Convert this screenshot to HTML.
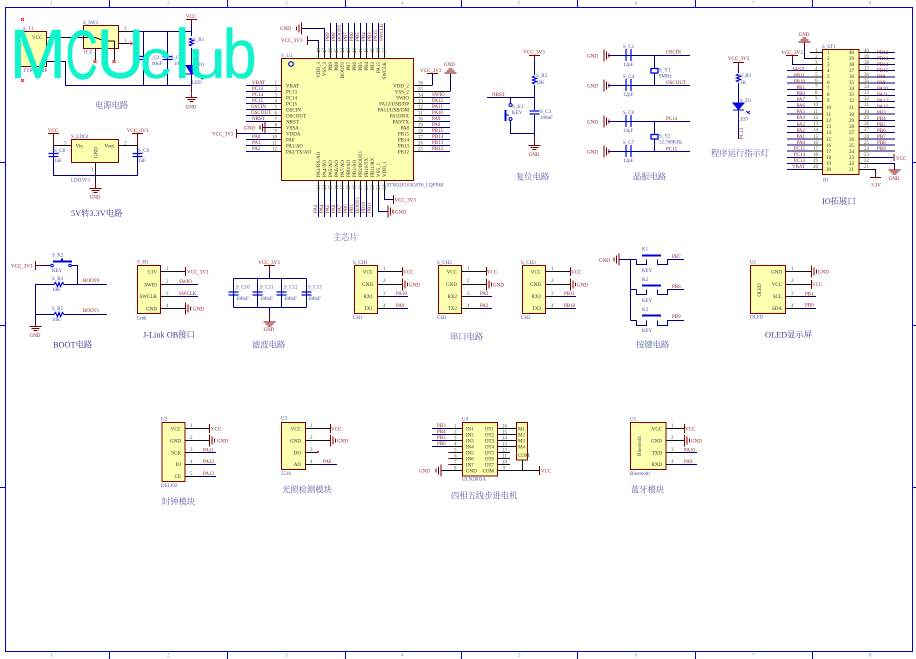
<!DOCTYPE html>
<html><head><meta charset="utf-8"><style>
html,body{margin:0;padding:0;background:#fff}
svg{display:block}
text{font:5px "Liberation Serif","Noto Serif CJK SC",serif;white-space:pre}
.n{fill:#8a2020}.d{fill:#4a4aa0}.b{fill:#303030}.g{fill:#555}
.t{font-size:8.3px;fill:#5a5ea8}.tk{font-size:8.3px;fill:#3c4090}
.e{text-anchor:end}.m{text-anchor:middle}
.w{stroke:#00007f;fill:none;stroke-width:1}
.k{stroke:#111;fill:none;stroke-width:1}
.r{stroke:#800000;fill:none;stroke-width:1}
.u{stroke:#0000e0;fill:none;stroke-width:1.2}
.c{fill:#ffffb0;stroke:#800000;stroke-width:1}
.x{stroke:#e02020;fill:none;stroke-width:1}
.mc{font:70px "Liberation Sans",sans-serif;fill:#10f3cc;stroke:#10f3cc;stroke-width:.4;stroke-linejoin:round}
</style></head><body>
<svg width="916" height="659" viewBox="0 0 916 659" xmlns="http://www.w3.org/2000/svg">
<defs>
<g id="gd"><path class="r" d="M0-4V0M-6 0H6M-4 2H4M-2 4H2" stroke-width="1"/></g>
<g id="gr"><path class="r" d="M0-6V6M2.500-4V4M5-2V2"/></g>
<g id="gl"><path class="r" d="M0-6V6M-2.500-4V4M-5-2V2"/></g>
<g id="gu"><path class="r" d="M-6 0H6M-4-2H4M-2-4H2"/></g>
<g id="rv"><path class="u" d="M0-4L-2-3L2-1.500L-2 0L2 1.500L-2 3L0 4"/></g>
<g id="rh"><path class="u" d="M-5 0L-3.500-2L-1.500 2L0-2L1.500 2L3.500-2L5 0"/></g>
<g id="cv"><path class="u" d="M-5-1.500H5M-5 1.500H5"/></g>
</defs>

<!-- frame -->
<path d="M5.500 7.500H912.500V651.500H5.500Z" fill="none" stroke="#0000c8"/>
<path d="M109.500 0V7M227.500 0V7M345.500 0V7M461.500 0V7M577.500 0V7M695.500 0V7M812.500 0V7M109.500 652V659M227.500 652V659M345.500 652V659M461.500 652V659M577.500 652V659M695.500 652V659M812.500 652V659M0 162.500H5M0 325.500H5M0 487.500H5M913 162.500H916M913 325.500H916M913 487.500H916" stroke="#0000e0" fill="none"/>
<g style="font-size:4px">
<text x="50" y="4.500" fill="#7a7ae8">1</text><text x="167" y="4.500" fill="#7a7ae8">2</text><text x="285" y="4.500" fill="#7a7ae8">3</text><text x="401" y="4.500" fill="#7a7ae8">4</text><text x="518" y="4.500" fill="#7a7ae8">5</text><text x="635" y="4.500" fill="#7a7ae8">6</text><text x="752" y="4.500" fill="#7a7ae8">7</text><text x="869" y="4.500" fill="#7a7ae8">8</text>
<text x="50" y="656.500" fill="#7a7ae8">1</text><text x="167" y="656.500" fill="#7a7ae8">2</text><text x="285" y="656.500" fill="#7a7ae8">3</text><text x="401" y="656.500" fill="#7a7ae8">4</text><text x="518" y="656.500" fill="#7a7ae8">5</text><text x="635" y="656.500" fill="#7a7ae8">6</text><text x="752" y="656.500" fill="#7a7ae8">7</text><text x="869" y="656.500" fill="#7a7ae8">8</text>
</g>

<!-- POWER -->
<rect class="c" x="17.500" y="31.500" width="29" height="35"/>
<rect class="c" x="83.500" y="25.500" width="35" height="23"/>
<path class="k" d="M46 37.500H83M118 31.500H131M118 43.500H131M95.500 48V60M114.500 48V60M83 37.500H95L105 41H114.500V48"/>
<path class="x" d="M21 18l3 3m0-3l-3 3M21 79l3 3m0-3l-3 3M129 43.500h4M131 41.500v4M93.500 60l3 3m0-3l-3 3M112.500 60l3 3m0-3l-3 3"/>
<path class="w" d="M131 31.500H191.500M46 61.500H65.500V85.500H191.500M143.500 31.500V85.500M167.500 31.500V85.500"/>
<path d="M191.500 19V36M191.500 48V65M191.500 74V93" class="w"/>
<path class="r" d="M186 19.500H197M191.500 19.500V24M191.500 85V93"/>
<use href="#rv" x="191.500" y="42"/>
<use href="#cv" x="143.500" y="58"/><use href="#cv" x="167.500" y="58"/>
<path d="M185.500 74H197.500M186 65.500H197L191.500 74Z" fill="#0000e0" stroke="#0000e0"/>
<path d="M199 76l4 3M203 79l-2-.5M203 79l-.5-2" stroke="#0000e0" fill="none"/>
<use href="#gd" x="191.500" y="97.500"/>
<text class="n m" x="191" y="18">VCC</text><text class="n m" x="191" y="108.500">GND</text>
<text class="d" x="23" y="30">S_T1</text><text class="b" x="32" y="39">VCC</text>
<text class="d" x="23" y="72">TYPE-C-2P</text><text class="d" x="83" y="24">S_SW1</text><text class="d" x="83" y="54">开关</text>
<text class="g" x="76" y="36">2</text><text class="g" x="52" y="36">1</text><text class="g" x="124" y="30">3</text><text class="g" x="124" y="42">1</text>
<text class="d" x="151" y="59">_C2</text><text class="d" x="152" y="65">00uF</text><text class="d" x="171" y="59">S_C</text><text class="d" x="174" y="65">104</text>
<text class="d" x="193" y="41">S_R1</text><text class="d" x="193" y="66">S_D1</text><text class="d" x="192" y="84">LED</text>
<text class="t" x="95" y="108">电源电路</text>

<!-- LDO -->
<rect class="c" x="71.500" y="139.500" width="47" height="23"/>
<path class="k" d="M53.500 145.500H71M118 145.500H137.500M95.500 162V175"/>
<path class="w" d="M53.500 145.500V175.500H137.500V145.500M95.500 175V186"/>
<path class="r" d="M48 133.500H59M53.500 133.500V145M132 133.500H143M137.500 133.500V145M95.500 182V188"/>
<use href="#cv" x="53.500" y="155"/><use href="#cv" x="137.500" y="155"/><use href="#gd" x="95.500" y="188.500"/>
<text class="n m" x="53" y="132">VCC</text><text class="n m" x="137.500" y="132">VCC_3V3</text><text class="n m" x="95" y="198.500">GND</text>
<text class="d" x="71" y="138">S_LDO1</text><text class="b" x="75.500" y="147.500">Vin</text><text class="b" x="104.500" y="147.500">Vout</text>
<text class="b" transform="rotate(-90 97.500 158)" x="97.500" y="158">GND</text>
<text class="g" x="64" y="144.500">3</text><text class="g" x="124" y="144.500">2</text><text class="g" x="91" y="171">1</text>
<text class="d" x="54" y="152">S_C8</text><text class="d" x="54" y="162">1uF</text><text class="d" x="138" y="152">S_C9</text><text class="d" x="138" y="162">1uF</text>
<text class="d" x="71" y="181.500">LDO3V3</text>
<text class="tk" x="71" y="216">5V转3.3V电路</text>

<!-- MCU -->
<rect class="c" x="281.500" y="58.500" width="132" height="122"/>
<circle cx="291" cy="64" r="2.300" fill="none" stroke="#0000e0" stroke-width="1.200"/>
<path class="k" d="M268 85.500H281M268 91.500H281M268 97.500H281M268 103.500H281M268 109.500H281M268 115.500H281M268 121.500H281M268 127.500H281M268 133.500H281M268 139.500H281M268 145.500H281M268 151.500H281
M414 85.500H432M414 91.500H450M414 97.500H427M414 103.500H427M414 109.500H427M414 115.500H427M414 121.500H427M414 127.500H427M414 133.500H427M414 139.500H427M414 145.500H427M414 151.500H427
M318.500 47V58M324.500 47V58M330.500 47V58M336.500 47V58M342.500 47V58M348.500 47V58M354.500 47V58M360.500 47V58M366.500 47V58M372.500 47V58M378.500 47V58M384.500 47V58
M318.500 181V192M324.500 181V192M330.500 181V192M336.500 181V192M342.500 181V192M348.500 181V192M354.500 181V192M360.500 181V192M366.500 181V192M372.500 181V192M378.500 181V192M384.500 181V192"/>
<path class="w" d="M246 85.500H268M246 91.500H268M246 97.500H268M246 103.500H268M246 109.500H268M246 115.500H268M246 121.500H268M246 139.500H268M246 145.500H268M246 151.500H268M262 127.500H268M236 133.500H268
M427 97.500H450M427 103.500H450M427 109.500H450M427 115.500H450M427 121.500H450M427 127.500H450M427 133.500H450M427 139.500H450M427 145.500H450M427 151.500H450
M432.500 85.500V74M450.500 91.500V74
M330.500 23V47M336.500 23V47M342.500 23V47M348.500 23V47M354.500 23V47M360.500 23V47M366.500 23V47M372.500 23V47M378.500 23V47M384.500 23V47
M324.500 47V28.500H301M318.500 47V40.500H307
M318.500 192V217M324.500 192V217M330.500 192V217M336.500 192V217M342.500 192V217M348.500 192V217M354.500 192V217M360.500 192V217M366.500 192V217
M372.500 192V217M378.500 192V211.500H388M384.500 192V199.500H393"/>
<path class="r" d="M427 73.500H438"/>
<use href="#gu" x="450.500" y="73"/><use href="#gl" x="301.500" y="28.500"/>
<path class="r" d="M307.500 36V45M236.500 129V138M393.500 195V204"/>
<use href="#gl" x="265" y="127.500"/><use href="#gr" x="388" y="211.500"/>
<text class="n" x="280" y="30">GND</text><text class="n" x="281" y="42">VCC_3V3</text><text class="n" x="244" y="129.500">GND</text><text class="n" x="212" y="135.500">VCC_3V3</text>
<text class="n" x="420" y="72">VCC_3V3</text><text class="n" x="444" y="66">GND</text><text class="n" x="394.500" y="201.500">VCC_3V3</text><text class="n" x="395" y="213.500">GND</text>
<g>
<text class="n" x="252" y="84">VBAT</text><text class="n" x="252" y="90">PC13</text><text class="n" x="252" y="96">PC14</text><text class="n" x="252" y="102">PC15</text><text class="n" x="251" y="108">OSCIN</text><text class="n" x="251" y="114">OSCOUT</text><text class="n" x="252" y="120">NRST</text><text class="n" x="252" y="138">PA0</text><text class="n" x="252" y="144">PA1</text><text class="n" x="252" y="150">PA2</text>
<text class="n" x="432" y="96">SWIO</text><text class="n" x="432" y="102">PA12</text><text class="n" x="432" y="108">PA11</text><text class="n" x="432" y="114">PA10</text><text class="n" x="432" y="120">PA9</text><text class="n" x="432" y="126">PA8</text><text class="n" x="432" y="132">PB15</text><text class="n" x="432" y="138">PB14</text><text class="n" x="432" y="144">PB13</text><text class="n" x="432" y="150">PB12</text>
</g>
<g>
<text class="g e" x="277" y="84.500">1</text><text class="g e" x="277" y="90.500">2</text><text class="g e" x="277" y="96.500">3</text><text class="g e" x="277" y="102.500">4</text><text class="g e" x="277" y="108.500">5</text><text class="g e" x="277" y="114.500">6</text><text class="g e" x="277" y="120.500">7</text><text class="g e" x="277" y="126.500">8</text><text class="g e" x="277" y="132.500">9</text><text class="g e" x="277" y="138.500">10</text><text class="g e" x="277" y="144.500">11</text><text class="g e" x="277" y="150.500">12</text>
<text class="g" x="418" y="84.500">36</text><text class="g" x="418" y="90.500">35</text><text class="g" x="418" y="96.500">34</text><text class="g" x="418" y="102.500">33</text><text class="g" x="418" y="108.500">32</text><text class="g" x="418" y="114.500">31</text><text class="g" x="418" y="120.500">30</text><text class="g" x="418" y="126.500">29</text><text class="g" x="418" y="132.500">28</text><text class="g" x="418" y="138.500">27</text><text class="g" x="418" y="144.500">26</text><text class="g" x="418" y="150.500">25</text>
</g>
<text class="b" x="286" y="87.500">VBAT</text><text class="b" x="286" y="93.500">PC13</text><text class="b" x="286" y="99.500">PC14</text><text class="b" x="286" y="105.500">PC15</text><text class="b" x="286" y="111.500">OSCIN</text><text class="b" x="286" y="117.500">OSCOUT</text><text class="b" x="286" y="123.500">NRST</text><text class="b" x="286" y="129.500">VSSA</text><text class="b" x="286" y="135.500">VDDA</text><text class="b" x="286" y="141.500">PA0</text><text class="b" x="286" y="147.500">PA1/AO</text><text class="b" x="286" y="153.500">PA2/TX/AO</text>
<text class="b e" x="409" y="87.500">VDD_2</text><text class="b e" x="409" y="93.500">VSS_2</text><text class="b e" x="409" y="99.500">SWIO</text><text class="b e" x="409" y="105.500">PA12/USB/DP</text><text class="b e" x="409" y="111.500">PA11/USB/DM</text><text class="b e" x="409" y="117.500">PA10/RX</text><text class="b e" x="409" y="123.500">PA9/TX</text><text class="b e" x="409" y="129.500">PA8</text><text class="b e" x="409" y="135.500">PB15</text><text class="b e" x="409" y="141.500">PB14</text><text class="b e" x="409" y="147.500">PB13</text><text class="b e" x="409" y="153.500">PB12</text>
<g>
<text class="b e" transform="rotate(-90 320 62)" x="320" y="62">VDD_3</text><text class="b e" transform="rotate(-90 326 62)" x="326" y="62">VSS_3</text><text class="b e" transform="rotate(-90 332 62)" x="332" y="62">PB9</text><text class="b e" transform="rotate(-90 338 62)" x="338" y="62">PB8</text><text class="b e" transform="rotate(-90 344 62)" x="344" y="62">BOOT0</text><text class="b e" transform="rotate(-90 350 62)" x="350" y="62">PB7</text><text class="b e" transform="rotate(-90 356 62)" x="356" y="62">PB6</text><text class="b e" transform="rotate(-90 362 62)" x="362" y="62">PB5</text><text class="b e" transform="rotate(-90 368 62)" x="368" y="62">PB4</text><text class="b e" transform="rotate(-90 374 62)" x="374" y="62">PB3</text><text class="b e" transform="rotate(-90 380 62)" x="380" y="62">PA15</text><text class="b e" transform="rotate(-90 386 62)" x="386" y="62">SWCLK</text>
</g>
<g>
<text class="n" transform="rotate(-90 329 41)" x="329" y="41">PB9</text><text class="n" transform="rotate(-90 335 41)" x="335" y="41">PB8</text><text class="n" transform="rotate(-90 341 41)" x="341" y="41">BOOT0</text><text class="n" transform="rotate(-90 347 41)" x="347" y="41">PB7</text><text class="n" transform="rotate(-90 353 41)" x="353" y="41">PB6</text><text class="n" transform="rotate(-90 359 41)" x="359" y="41">PB5</text><text class="n" transform="rotate(-90 365 41)" x="365" y="41">PB4</text><text class="n" transform="rotate(-90 371 41)" x="371" y="41">PB3</text><text class="n" transform="rotate(-90 377 41)" x="377" y="41">PA15</text><text class="n" transform="rotate(-90 383 41)" x="383" y="41">SWCLK</text>
</g>
<g>
<text class="g" transform="rotate(-90 320 53)" x="320" y="53">48</text><text class="g" transform="rotate(-90 326 53)" x="326" y="53">47</text><text class="g" transform="rotate(-90 332 53)" x="332" y="53">46</text><text class="g" transform="rotate(-90 338 53)" x="338" y="53">45</text><text class="g" transform="rotate(-90 344 53)" x="344" y="53">44</text><text class="g" transform="rotate(-90 350 53)" x="350" y="53">43</text><text class="g" transform="rotate(-90 356 53)" x="356" y="53">42</text><text class="g" transform="rotate(-90 362 53)" x="362" y="53">41</text><text class="g" transform="rotate(-90 368 53)" x="368" y="53">40</text><text class="g" transform="rotate(-90 374 53)" x="374" y="53">39</text><text class="g" transform="rotate(-90 380 53)" x="380" y="53">38</text><text class="g" transform="rotate(-90 386 53)" x="386" y="53">37</text>
</g>
<g>
<text class="b" transform="rotate(-90 320 177)" x="320" y="177">PA3/RX/AO</text><text class="b" transform="rotate(-90 326 177)" x="326" y="177">PA4/AO</text><text class="b" transform="rotate(-90 332 177)" x="332" y="177">PA5/AO</text><text class="b" transform="rotate(-90 338 177)" x="338" y="177">PA6/AO</text><text class="b" transform="rotate(-90 344 177)" x="344" y="177">PA7/AO</text><text class="b" transform="rotate(-90 350 177)" x="350" y="177">PB0/AO</text><text class="b" transform="rotate(-90 356 177)" x="356" y="177">PB1/AO</text><text class="b" transform="rotate(-90 362 177)" x="362" y="177">PB2/BOOT1</text><text class="b" transform="rotate(-90 368 177)" x="368" y="177">PB10/TX</text><text class="b" transform="rotate(-90 374 177)" x="374" y="177">PB11/RX</text><text class="b" transform="rotate(-90 380 177)" x="380" y="177">VSS_1</text><text class="b" transform="rotate(-90 386 177)" x="386" y="177">VDD_1</text>
</g>
<g>
<text class="g" transform="rotate(-90 320 190)" x="320" y="190">13</text><text class="g" transform="rotate(-90 326 190)" x="326" y="190">14</text><text class="g" transform="rotate(-90 332 190)" x="332" y="190">15</text><text class="g" transform="rotate(-90 338 190)" x="338" y="190">16</text><text class="g" transform="rotate(-90 344 190)" x="344" y="190">17</text><text class="g" transform="rotate(-90 350 190)" x="350" y="190">18</text><text class="g" transform="rotate(-90 356 190)" x="356" y="190">19</text><text class="g" transform="rotate(-90 362 190)" x="362" y="190">20</text><text class="g" transform="rotate(-90 368 190)" x="368" y="190">21</text><text class="g" transform="rotate(-90 374 190)" x="374" y="190">22</text><text class="g" transform="rotate(-90 380 190)" x="380" y="190">23</text><text class="g" transform="rotate(-90 386 190)" x="386" y="190">24</text>
</g>
<g>
<text class="n" transform="rotate(-90 317 213)" x="317" y="213">PA3</text><text class="n" transform="rotate(-90 323 213)" x="323" y="213">PA4</text><text class="n" transform="rotate(-90 329 213)" x="329" y="213">PA5</text><text class="n" transform="rotate(-90 335 213)" x="335" y="213">PA6</text><text class="n" transform="rotate(-90 341 213)" x="341" y="213">PA7</text><text class="n" transform="rotate(-90 347 213)" x="347" y="213">PB0</text><text class="n" transform="rotate(-90 353 213)" x="353" y="213">PB1</text><text class="n" transform="rotate(-90 359 213)" x="359" y="213">BOOT1</text><text class="n" transform="rotate(-90 365 213)" x="365" y="213">PB10</text><text class="n" transform="rotate(-90 371 213)" x="371" y="213">PB11</text>
</g>
<text class="d" x="281" y="57">S_U1</text>
<text class="d" x="386.500" y="186.500">STM32F103C8T6_LQFP48</text>
<text class="t" x="333" y="240">主芯片</text>

<!-- RESET -->
<path class="w" d="M534.500 55V75M534.500 85V110M534.500 115V141M487 97.500H534.500M510.500 97.500V103M510.500 121V133.500H534.500"/>
<path class="r" d="M529 55.500H540M534.500 55.500V60M534.500 136V145"/>
<use href="#rv" x="534.500" y="80"/><use href="#cv" x="534.500" y="112.500"/><use href="#gd" x="534.500" y="145.500"/>
<circle cx="510.500" cy="105" r="1.500" fill="none" stroke="#0000e0"/><circle cx="510.500" cy="119" r="1.500" fill="none" stroke="#0000e0"/>
<path d="M505.500 110V121" stroke="#0000e0" stroke-width="2" fill="none"/><path class="w" d="M505.500 115H509"/>
<text class="n m" x="534" y="53.500">VCC_3V3</text><text class="n" x="492" y="96">NRST</text><text class="n m" x="534" y="156">GND</text>
<text class="d" x="536" y="77">S_R2</text><text class="d" x="536" y="84">10K</text><text class="d" x="512" y="108">S_K1</text><text class="d" x="512" y="114">KEY</text><text class="d" x="540" y="113">S_C3</text><text class="d" x="540" y="119">100nF</text>
<text class="t" x="516" y="179.500">复位电路</text>

<!-- CRYSTAL -->
<path class="w" d="M608 55.500H690M608 85.500H690M608 121.500H690M608 151.500H690M654.500 55.500V68M654.500 73V85.500M654.500 121.500V134M654.500 139V151.500"/>
<path d="M625 49V61M630 49V61M625 79V91M630 79V91M625 115V127M630 115V127M625 145V157M630 145V157" stroke="#0000e0" fill="none" stroke-width="1.200" transform="translate(1 0)"/>
<rect x="651" y="68.500" width="7" height="4.500" fill="none" stroke="#0000e0" stroke-width="1.300"/>
<rect x="651" y="134.500" width="7" height="4.500" fill="none" stroke="#0000e0" stroke-width="1.300"/>
<use href="#gr" x="604" y="55.500"/><use href="#gr" x="604" y="85.500"/><use href="#gr" x="604" y="121.500"/><use href="#gr" x="604" y="151.500"/>
<text class="n" x="587" y="57.500">GND</text><text class="n" x="587" y="87.500">GND</text><text class="n" x="587" y="123.500">GND</text><text class="n" x="587" y="153.500">GND</text>
<text class="d" x="623" y="48">S_C1</text><text class="d" x="623" y="66">12pF</text><text class="d" x="623" y="78">S_C4</text><text class="d" x="623" y="96">12pF</text><text class="d" x="623" y="114">S_C6</text><text class="d" x="623" y="132">12pF</text><text class="d" x="623" y="144">S_C7</text><text class="d" x="623" y="162">12pF</text>
<text class="n" x="666" y="53.500">OSCIN</text><text class="n" x="666" y="84">OSCOUT</text><text class="n" x="666" y="120">PC14</text><text class="n" x="666" y="150.500">PC15</text>
<text class="d" x="659" y="71.500">S_Y1</text><text class="d" x="659" y="77.500">8MHz</text><text class="d" x="659" y="137.500">S_Y2</text><text class="d" x="659" y="143.500">32.768KHz</text>
<text class="t" x="633" y="179.500">晶振电路</text>

<!-- LED -->
<path class="w" d="M738.500 66V73M738.500 83V103M738.500 110V139"/>
<path class="r" d="M733 62.500H744M738.500 62.500V67"/>
<use href="#rv" x="738.500" y="78"/>
<path d="M733 103H744L738.500 109.500ZM733 110H744" fill="#0000e0" stroke="#0000e0"/>
<path d="M746 112l4 3M750 112l-3 2" stroke="#0000e0" fill="none" transform="translate(0 -1)"/>
<text class="n m" x="738.500" y="60">VCC_3V3</text>
<text class="d" x="740" y="77">S_R3</text><text class="d" x="740" y="84">1K</text><text class="d" x="740" y="102">S_D1</text><text class="d" x="738" y="120.500">LED</text>
<text class="n" transform="rotate(-90 743 139)" x="743" y="139">PC13</text>
<text class="t" x="711" y="156">程序运行指示灯</text>

<!-- IO header -->
<rect class="c" x="822.500" y="49.500" width="36.500" height="125"/>
<path class="k" d="M810 52.500H822M810 58.500H822M810 64.500H822M810 70.500H822M810 77H822M810 83H822M810 89.500H822M810 95.500H822M810 101.500H822M810 107.500H822M810 114H822M810 120.500H822M810 126.500H822M810 132.500H822M810 139H822M810 145H822M810 151H822M810 157.500H822M810 163.500H822M810 169.500H822
M859 52.500H871M859 58.500H871M859 64.500H871M859 70.500H871M859 77H871M859 83H871M859 89.500H871M859 95.500H871M859 101.500H871M859 107.500H871M859 114H871M859 120.500H871M859 126.500H871M859 132.500H871M859 139H871M859 145H871M859 151H871M859 157.500H871M859 163.500H871M859 169.500H875.500V177"/>
<path class="w" d="M787 70.500H810M787 77H810M787 83H810M787 89.500H810M787 95.500H810M787 101.500H810M787 107.500H810M787 114H810M787 120.500H810M787 126.500H810M787 132.500H810M787 139H810M787 145H810M787 151H810M787 157.500H810M787 163.500H810M787 169.500H810
M871 52.500H895M871 58.500H895M871 64.500H895M871 70.500H895M871 77H895M871 83H895M871 89.500H895M871 95.500H895M871 101.500H895M871 107.500H895M871 114H895M871 120.500H895M871 126.500H895M871 132.500H895M871 139H895M871 145H895M871 151H895M871 157.500H893M871 163.500H894.500V168
M804.500 46V58.500H810M792.500 60V64.500H810"/>
<path class="r" d="M804.500 42V47M786 55.500H798M792.500 55.500V60M894 154V161M875.500 172V177.500M870 177.500H881M894.500 166V170"/>
<use href="#gu" x="804.500" y="42"/><use href="#gd" x="894.500" y="170"/>
<text class="n m" x="804" y="36">GND</text><text class="n m" x="792" y="54">VCC_3V3</text><text class="n" x="896" y="160">VCC</text><text class="n m" x="894" y="180">GND</text><text class="n m" x="876" y="186.500">3.3V</text>
<text class="d" x="822" y="48">S_ST1</text><text class="d" x="823" y="181.500">IO</text>
<text class="t tk" x="822" y="204">IO拓展口</text>
<g>
<text class="n e" x="805" y="71">NRST</text><text class="n e" x="805" y="77">PB11</text><text class="n e" x="805" y="83">PB10</text><text class="n e" x="805" y="89">PB1</text><text class="n e" x="805" y="95">PB0</text><text class="n e" x="805" y="101">PA7</text><text class="n e" x="805" y="107">PA6</text><text class="n e" x="805" y="113">PA5</text><text class="n e" x="805" y="119">PA4</text><text class="n e" x="805" y="126">PA3</text><text class="n e" x="805" y="132">PA2</text><text class="n e" x="805" y="138">PA1</text><text class="n e" x="805" y="144">PA0</text><text class="n e" x="805" y="150">PC15</text><text class="n e" x="805" y="156">PC14</text><text class="n e" x="805" y="162">PC13</text><text class="n e" x="805" y="168">VBAT</text>
<text class="n" x="877" y="54">PB12</text><text class="n" x="877" y="60">PB13</text><text class="n" x="877" y="66">PB14</text><text class="n" x="877" y="72">PB15</text><text class="n" x="877" y="78">PA8</text><text class="n" x="877" y="84">PA9</text><text class="n" x="877" y="90">PA10</text><text class="n" x="877" y="96">PA11</text><text class="n" x="877" y="102">PA12</text><text class="n" x="877" y="108">PA13</text><text class="n" x="877" y="114">PB3</text><text class="n" x="877" y="120">PB4</text><text class="n" x="877" y="126">PB5</text><text class="n" x="877" y="132">PB6</text><text class="n" x="877" y="138">PB7</text><text class="n" x="877" y="144">PB8</text><text class="n" x="877" y="150">PB9</text>
</g>
<g>
<text class="g" x="815" y="52">1</text><text class="g" x="815" y="58">2</text><text class="g" x="815" y="64">3</text><text class="g" x="815" y="70">4</text><text class="g" x="815" y="76">5</text><text class="g" x="815" y="82">6</text><text class="g" x="815" y="88">7</text><text class="g" x="815" y="94">8</text><text class="g" x="815" y="100">9</text><text class="g" x="813" y="106">10</text><text class="g" x="813" y="113">11</text><text class="g" x="813" y="119">12</text><text class="g" x="813" y="125">13</text><text class="g" x="813" y="131">14</text><text class="g" x="813" y="138">15</text><text class="g" x="813" y="144">16</text><text class="g" x="813" y="150">17</text><text class="g" x="813" y="156">18</text><text class="g" x="813" y="162">19</text><text class="g" x="813" y="168">20</text>
<text class="b" x="827" y="54">1</text><text class="b" x="827" y="60">2</text><text class="b" x="827" y="66">3</text><text class="b" x="827" y="72">4</text><text class="b" x="827" y="78">5</text><text class="b" x="827" y="84">6</text><text class="b" x="827" y="90">7</text><text class="b" x="827" y="96">8</text><text class="b" x="827" y="102">9</text><text class="b" x="826" y="109">10</text><text class="b" x="826" y="116">11</text><text class="b" x="826" y="122">12</text><text class="b" x="826" y="128">13</text><text class="b" x="826" y="134">14</text><text class="b" x="826" y="141">15</text><text class="b" x="826" y="147">16</text><text class="b" x="826" y="153">17</text><text class="b" x="826" y="159">18</text><text class="b" x="826" y="165">19</text><text class="b" x="826" y="171">20</text>
<text class="b" x="849" y="54">40</text><text class="b" x="849" y="60">39</text><text class="b" x="849" y="66">38</text><text class="b" x="849" y="72">37</text><text class="b" x="849" y="78">36</text><text class="b" x="849" y="84">35</text><text class="b" x="849" y="90">34</text><text class="b" x="849" y="96">33</text><text class="b" x="849" y="102">32</text><text class="b" x="849" y="109">31</text><text class="b" x="849" y="116">30</text><text class="b" x="849" y="122">29</text><text class="b" x="849" y="128">28</text><text class="b" x="849" y="134">27</text><text class="b" x="849" y="141">26</text><text class="b" x="849" y="147">25</text><text class="b" x="849" y="153">24</text><text class="b" x="849" y="159">23</text><text class="b" x="849" y="165">22</text><text class="b" x="849" y="171">21</text>
<text class="g" x="864" y="52">40</text><text class="g" x="864" y="58">39</text><text class="g" x="864" y="64">38</text><text class="g" x="864" y="70">37</text><text class="g" x="864" y="76">36</text><text class="g" x="864" y="82">35</text><text class="g" x="864" y="88">34</text><text class="g" x="864" y="94">33</text><text class="g" x="864" y="100">32</text><text class="g" x="864" y="106">31</text><text class="g" x="864" y="113">30</text><text class="g" x="864" y="119">29</text><text class="g" x="864" y="125">28</text><text class="g" x="864" y="131">27</text><text class="g" x="864" y="138">26</text><text class="g" x="864" y="144">25</text><text class="g" x="864" y="150">24</text><text class="g" x="864" y="156">23</text><text class="g" x="864" y="162">22</text><text class="g" x="864" y="168">21</text>
</g>

<!-- BOOT -->
<path class="r" d="M35.500 261V270M35.500 265.500H43"/>
<path class="w" d="M43 265.500H50M71 265.500H77.500V284M35 284.500H54M64 284.500H107M35.500 284.500V322M35 314.500H54M64 314.500H107"/>
<circle cx="52" cy="265.500" r="1.300" fill="none" stroke="#0000e0"/><circle cx="70" cy="265.500" r="1.300" fill="none" stroke="#0000e0"/>
<path d="M53 261.500H72M62 258.500V261" stroke="#0000e0" stroke-width="2" fill="none"/>
<use href="#rh" x="59" y="284.500"/><use href="#rh" x="59" y="314.500"/>
<use href="#gd" x="35.500" y="326.500"/><path class="r" d="M35.500 322V326"/>
<text class="n" x="11" y="267.500">VCC_3V3</text><text class="n m" x="35" y="337">GND</text><text class="n" x="83" y="282">BOOT0</text><text class="n" x="83" y="312">BOOT1</text>
<text class="d" x="52" y="256.500">S_K2</text><text class="d" x="52" y="272">KEY</text><text class="d" x="52" y="280">S_R4</text><text class="d" x="52" y="291">10K</text><text class="d" x="52" y="310">S_R5</text><text class="d" x="52" y="321">10K</text>
<text class="tk" x="53" y="347.500">BOOT电路</text>

<!-- JLINK -->
<rect class="c" x="137.500" y="265.500" width="23" height="48"/>
<path class="k" d="M160 271.500H185M160 284.500H175M160 296.500H175M160 308.500H185"/>
<path class="w" d="M175 284.500H198M175 296.500H198"/>
<path class="r" d="M185.500 267V276"/><use href="#gr" x="185.500" y="308.500"/>
<text class="d" x="137" y="263.500">S_H1</text><text class="d" x="137" y="319.500">Link</text>
<text class="b e" x="157" y="273.500">3.3V</text><text class="b e" x="157" y="286.500">SWIO</text><text class="b e" x="157" y="298">SWCLK</text><text class="b e" x="157" y="310.500">GND</text>
<text class="g" x="166" y="270">1</text><text class="g" x="166" y="283">2</text><text class="g" x="166" y="295">3</text><text class="g" x="166" y="307">4</text>
<text class="n" x="187" y="273.500">VCC_3V3</text><text class="n" x="179" y="283">SWIO</text><text class="n" x="179" y="295">SWCLK</text><text class="n" x="193" y="310.500">GND</text>
<text class="tk" x="143" y="337.500">J-Link OB接口</text>

<!-- FILTER -->
<path class="w" d="M233.500 278.500H306.500M233.500 307.500H306.500M233.500 278.500V307.500M257.500 278.500V307.500M281.500 278.500V307.500M306.500 278.500V307.500M269.500 270V278.500M269.500 307.500V318"/>
<path class="r" d="M264 265.500H275M269.500 265.500V272M269.500 316V322"/>
<use href="#cv" x="233.500" y="293.500"/><use href="#cv" x="257.500" y="293.500"/><use href="#cv" x="281.500" y="293.500"/><use href="#cv" x="306.500" y="293.500"/>
<use href="#gd" x="269.500" y="322"/>
<text class="n m" x="269" y="264">VCC_3V3</text><text class="n m" x="269" y="331">GND</text>
<text class="d" x="236" y="288.500">S_C10</text><text class="d" x="260" y="288.500">S_C11</text><text class="d" x="284" y="288.500">S_C12</text><text class="d" x="308" y="288.500">S_C13</text>
<text class="d" x="236" y="300">100nF</text><text class="d" x="260" y="300">100nF</text><text class="d" x="284" y="300">100nF</text><text class="d" x="308" y="300">100nF</text>
<text class="t" x="252" y="347.500">滤波电路</text>

<!-- SERIAL -->
<rect class="c" x="354.500" y="265.500" width="23" height="48"/>
<rect class="c" x="438.500" y="265.500" width="23" height="48"/>
<rect class="c" x="522.500" y="265.500" width="23" height="48"/>
<path class="k" d="M377 271.500H402M377 284.500H402M377 296.500H392M377 308.500H392M461 271.500H486M461 284.500H486M461 296.500H476M461 308.500H476M545 271.500H570M545 284.500H570M545 296.500H560M545 308.500H560"/>
<path class="w" d="M392 296.500H408M392 308.500H408M476 296.500H492M476 308.500H492M560 296.500H576M560 308.500H576"/>
<path class="r" d="M402.500 267V276M486.500 267V276M570.500 267V276"/>
<use href="#gr" x="402.500" y="284.500"/><use href="#gr" x="486.500" y="284.500"/><use href="#gr" x="570.500" y="284.500"/>
<text class="d" x="353" y="264">S_CH1</text><text class="d" x="353" y="319">CH1</text><text class="d" x="437" y="264">S_CH2</text><text class="d" x="437" y="319">CH2</text><text class="d" x="521" y="264">S_CH3</text><text class="d" x="521" y="319">CH3</text>
<text class="b e" x="373" y="273.500">VCC</text><text class="b e" x="373" y="286">GND</text><text class="b e" x="373" y="298">RX1</text><text class="b e" x="373" y="310">TX1</text>
<text class="b e" x="457" y="273.500">VCC</text><text class="b e" x="457" y="286">GND</text><text class="b e" x="457" y="298">RX2</text><text class="b e" x="457" y="310">TX2</text>
<text class="b e" x="541" y="273.500">VCC</text><text class="b e" x="541" y="286">GND</text><text class="b e" x="541" y="298">RX3</text><text class="b e" x="541" y="310">TX3</text>
<text class="g" x="383" y="270">1</text><text class="g" x="383" y="282">2</text><text class="g" x="383" y="295">3</text><text class="g" x="383" y="307">4</text>
<text class="g" x="467" y="270">1</text><text class="g" x="467" y="282">2</text><text class="g" x="467" y="295">3</text><text class="g" x="467" y="307">4</text>
<text class="g" x="551" y="270">1</text><text class="g" x="551" y="282">2</text><text class="g" x="551" y="295">3</text><text class="g" x="551" y="307">4</text>
<text class="n" x="403" y="273.500">VCC</text><text class="n" x="409" y="286.500">GND</text><text class="n" x="396" y="295">PA10</text><text class="n" x="396" y="307">PA9</text>
<text class="n" x="487" y="273.500">VCC</text><text class="n" x="493" y="286.500">GND</text><text class="n" x="480" y="295">PA3</text><text class="n" x="480" y="307">PA2</text>
<text class="n" x="571" y="273.500">VCC</text><text class="n" x="577" y="286.500">GND</text><text class="n" x="564" y="295">PB11</text><text class="n" x="564" y="307">PB10</text>
<text class="t" x="450" y="339.500">串口电路</text>

<!-- KEYS -->
<use href="#gl" x="619" y="259.500"/>
<text class="n" x="599" y="262">GND</text>
<path class="w" d="M619 259.500H636.500M630.500 259.500V320.500M630.500 289.500H636.500M630.500 320.500H636.500
M636.500 259.500V264.500H646.500V259.500M657.500 259.500V264.500H667.500V259.500H684
M636.500 289.500V294.500H646.500V289.500M657.500 289.500V294.500H667.500V289.500H684
M636.500 320.500V325.500H646.500V320.500M657.500 320.500V325.500H667.500V320.500H684"/>
<path d="M642 255.500H661M642 285.500H661M642 315.500H661" stroke="#0000e0" stroke-width="2" fill="none"/>
<text class="d" x="642" y="250.500">K1</text><text class="d" x="642" y="272">KEY</text><text class="n" x="672" y="258">PB7</text>
<text class="d" x="642" y="281">K2</text><text class="d" x="642" y="302">KEY</text><text class="n" x="672" y="288">PB8</text>
<text class="d" x="642" y="311">K3</text><text class="d" x="642" y="332">KEY</text><text class="n" x="672" y="318">PB9</text>
<text class="t" x="636" y="347.500">按键电路</text>

<!-- OLED -->
<rect class="c" x="750.500" y="265.500" width="35" height="48"/>
<path class="k" d="M785 271.500H811M785 284.500H811M785 296.500H800M785 308.500H800"/>
<path class="w" d="M800 296.500H816M800 308.500H816"/>
<path class="r" d="M811.500 280V289"/><use href="#gr" x="811.500" y="271.500"/>
<text class="d" x="750" y="263.500">U1</text><text class="d" x="750" y="318.500">OLED</text>
<text class="b e" x="782" y="273.500">GND</text><text class="b e" x="782" y="286">VCC</text><text class="b e" x="782" y="298">SCL</text><text class="b e" x="782" y="310">SDA</text>
<text class="b m" transform="rotate(-90 761 290)" x="761" y="290">OLED</text>
<text class="g" x="791" y="270">1</text><text class="g" x="791" y="282">2</text><text class="g" x="791" y="295">3</text><text class="g" x="791" y="307">4</text>
<text class="n" x="818" y="273.500">GND</text><text class="n" x="812" y="286">VCC</text><text class="n" x="805" y="295.500">PB1</text><text class="n" x="805" y="306.500">PB0</text>
<text class="tk" x="765" y="337.500">OLED显示屏</text>

<!-- U2 -->
<rect class="c" x="162" y="422.500" width="23" height="59"/>
<path class="k" d="M185 428.500H209M185 440.500H209M185 452.500H198M185 464.500H198M185 476.500H198"/>
<path class="w" d="M198 452.500H216M198 464.500H216M198 476.500H216"/>
<path class="r" d="M209.500 424V433"/><use href="#gr" x="209.500" y="440.500"/>
<text class="d" x="161" y="420.500">U2</text><text class="d" x="161" y="487">DS1302</text>
<text class="b e" x="181" y="430.500">VCC</text><text class="b e" x="181" y="442.500">GND</text><text class="b e" x="181" y="454.500">SCK</text><text class="b e" x="181" y="466">IO</text><text class="b e" x="181" y="478">CE</text>
<text class="g" x="190" y="427">1</text><text class="g" x="190" y="439">2</text><text class="g" x="190" y="451">3</text><text class="g" x="190" y="463">4</text><text class="g" x="190" y="475">5</text>
<text class="n" x="211" y="430.500">VCC</text><text class="n" x="217" y="442.500">GND</text><text class="n" x="203" y="451.500">PA11</text><text class="n" x="203" y="463">PA12</text><text class="n" x="203" y="475">PA13</text>
<text class="t" x="162" y="504.500">时钟模块</text>

<!-- U3 -->
<rect class="c" x="281.500" y="422.500" width="24" height="47"/>
<path class="k" d="M305 428.500H330M305 440.500H330M305 452.500H318M305 464.500H320"/>
<path class="w" d="M320 464.500H337"/>
<path class="r" d="M330.500 424V433"/><use href="#gr" x="330.500" y="440.500"/>
<rect x="317" y="451" width="2" height="2" fill="#e02020"/>
<text class="d" x="281" y="419.500">U3</text><text class="d" x="281" y="475">5516</text>
<text class="b e" x="301" y="430.500">VCC</text><text class="b e" x="301" y="442.500">GND</text><text class="b e" x="301" y="454.500">DO</text><text class="b e" x="301" y="466">AO</text>
<text class="g" x="310" y="427">1</text><text class="g" x="310" y="439">2</text><text class="g" x="310" y="451">3</text><text class="g" x="310" y="463">4</text>
<text class="n" x="331" y="430.500">VCC</text><text class="n" x="337" y="442.500">GND</text><text class="n" x="323" y="463">PA0</text>
<text class="t" x="282" y="492.500">光照检测模块</text>

<!-- U4 -->
<rect class="c" x="462.500" y="422.500" width="35" height="53.500"/>
<rect class="c" x="516.500" y="422.500" width="11" height="37.500"/>
<path class="k" d="M450 428.500H462M450 434.500H462M450 440.500H462M450 446.500H462M450 452.500H462M450 458.500H462M450 464.500H462M450 470.500H462
M497 428.500H516M497 434.500H516M497 440.500H516M497 446.500H516M497 452.500H510M497 458.500H510M497 464.500H510M497 470.500H539M522.500 460V470.500"/>
<path class="w" d="M432 428.500H450M432 434.500H450M432 440.500H450M432 446.500H450M441 470.500H450"/>
<path class="x" d="M448 452.500h2M448 458.500h2M448 464.500h2"/>
<path class="r" d="M539.500 466V475"/><use href="#gl" x="441" y="470.500"/>
<text class="d" x="462" y="420.500">U4</text><text class="d" x="462" y="480.500">ULN2003A</text>
<text class="n" x="437" y="427">PB3</text><text class="n" x="437" y="433">PB4</text><text class="n" x="437" y="439">PB5</text><text class="n" x="437" y="445">PB6</text>
<text class="b" x="466" y="430.500">IN1</text><text class="b" x="466" y="436.500">IN2</text><text class="b" x="466" y="442.500">IN3</text><text class="b" x="466" y="448.500">IN4</text><text class="b" x="466" y="454.500">IN5</text><text class="b" x="466" y="460.500">IN6</text><text class="b" x="466" y="466.500">IN7</text><text class="b" x="466" y="472.500">GND</text>
<text class="b e" x="494" y="430.500">OT1</text><text class="b e" x="494" y="436.500">OT2</text><text class="b e" x="494" y="442.500">OT3</text><text class="b e" x="494" y="448.500">OT4</text><text class="b e" x="494" y="454.500">OT5</text><text class="b e" x="494" y="460.500">OT6</text><text class="b e" x="494" y="466.500">OT7</text><text class="b e" x="494" y="472.500">COM</text>
<text class="g" x="454" y="427.500">1</text><text class="g" x="454" y="433.500">2</text><text class="g" x="454" y="439.500">3</text><text class="g" x="454" y="445.500">4</text><text class="g" x="454" y="451.500">5</text><text class="g" x="454" y="457.500">6</text><text class="g" x="454" y="463.500">7</text><text class="g" x="454" y="469.500">8</text>
<text class="g" x="502" y="427.500">16</text><text class="g" x="502" y="433.500">15</text><text class="g" x="502" y="439.500">14</text><text class="g" x="502" y="445.500">13</text><text class="g" x="502" y="451.500">12</text><text class="g" x="502" y="457.500">11</text><text class="g" x="502" y="463.500">10</text><text class="g" x="503" y="469.500">9</text>
<text class="b" x="518" y="430.500">M1</text><text class="b" x="518" y="436.500">M2</text><text class="b" x="518" y="442.500">M3</text><text class="b" x="518" y="448.500">M4</text><text class="b" x="518" y="457">COM</text>
<text class="n" x="419" y="472.500">GND</text><text class="n" x="541" y="472.500">VCC</text>
<text class="t" x="451" y="498.500">四相五线步进电机</text>

<!-- U5 -->
<rect class="c" x="630.500" y="422.500" width="35.500" height="47"/>
<path class="k" d="M666 428.500H684M666 440.500H684M666 452.500H678M666 464.500H678"/>
<path class="w" d="M678 452.500H697M678 464.500H697"/>
<path class="r" d="M684.500 424V433"/><use href="#gr" x="684.500" y="440.500"/>
<text class="d" x="630" y="420.500">U5</text><text class="d" x="630" y="475">Bluetooth</text>
<text class="b e" x="662" y="430.500">VCC</text><text class="b e" x="662" y="442.500">GND</text><text class="b e" x="662" y="454.500">TXD</text><text class="b e" x="662" y="466">RXD</text>
<text class="b m" transform="rotate(-90 641 446)" x="641" y="446">Bluetooth</text>
<text class="g" x="671" y="427">1</text><text class="g" x="671" y="439">2</text><text class="g" x="671" y="451">3</text><text class="g" x="671" y="463">4</text>
<text class="n" x="685" y="430.500">VCC</text><text class="n" x="691" y="442.500">GND</text><text class="n" x="684" y="451.500">PA10</text><text class="n" x="684" y="463">PA9</text>
<text class="t" x="631" y="492.500">蓝牙模块</text>

<!-- watermark -->
<g>
<text class="mc" transform="translate(9.500 78) scale(.97 1)">M</text>
<text class="mc" transform="translate(65.500 79) scale(.64 1)">C</text>
<text class="mc" transform="translate(96.500 78) scale(.95 1)">U</text>
<text class="mc" style="font-size:54px" transform="translate(140 78) scale(1.150 1)">c</text>
<text class="mc" transform="translate(174.500 78)">l</text>
<text class="mc" style="font-size:54px" transform="translate(188.300 78) scale(1.250 1)">u</text>
<text class="mc" transform="translate(222.700 78) scale(.87 1)">b</text>
</g>
</svg>
</body></html>
